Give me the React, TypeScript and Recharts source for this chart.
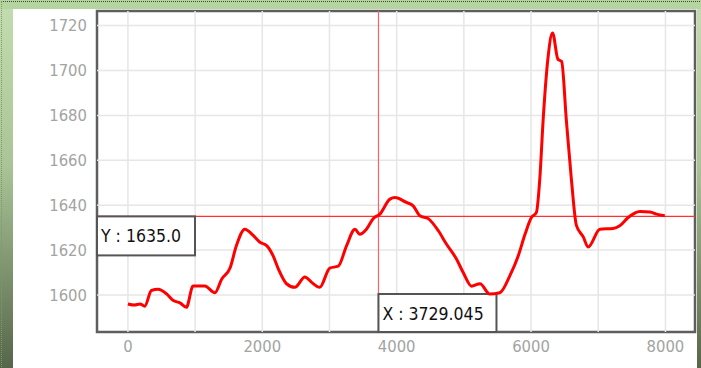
import { LineChart, Line, XAxis, YAxis, ReferenceLine, ReferenceArea } from "recharts";

// trace (x = sample position, y = value)
const xValues = [
  0, 100, 180, 250, 350, 450, 575, 675, 775, 870,
  970, 1145, 1295, 1395, 1520, 1615, 1740, 1865, 1965, 2065,
  2160, 2240, 2360, 2485, 2635, 2735, 2855, 3005, 3130, 3255,
  3380, 3450, 3550, 3650, 3750, 3900, 3975, 4145, 4245, 4345,
  4470, 4620, 4740, 4890, 4990, 5115, 5240, 5385, 5535, 5685,
  5810, 5910, 6005, 6080, 6130, 6180, 6250, 6320, 6400, 6455,
  6525, 6600, 6675, 6775, 6850, 7025, 7220, 7320, 7445, 7620,
  7770, 7865, 7990,
];
const yValues = [
  1596, 1595.5, 1596, 1595, 1602, 1602.5, 1600.5, 1597.5, 1596.5, 1594.5,
  1604, 1604, 1601, 1607, 1612, 1622, 1629.3, 1626.5, 1623.5, 1622,
  1617.5, 1611.5, 1605, 1603.4, 1608, 1605.6, 1603.4, 1612, 1612.8, 1622,
  1629.3, 1627, 1629.3, 1634, 1636, 1642.7, 1643.4, 1641.2, 1639.7, 1635.3,
  1634, 1628.6, 1622.7, 1616, 1610, 1603.9, 1605, 1600.4, 1601, 1608.6,
  1617.5, 1627, 1634.5, 1636.8, 1651.6, 1678, 1705, 1716.7, 1705, 1704,
  1678, 1651.6, 1631, 1626, 1621.4, 1629.3, 1629.6, 1630.8, 1634.5, 1637.2,
  1637, 1636, 1635.3,
];

const xTicks = [0, 2000, 4000, 6000, 8000];
const yTicks = [1600, 1620, 1640, 1660, 1680, 1700, 1720];
const xGrid = [0, 1000, 2000, 3000, 4000, 5000, 6000, 7000, 8000];

const cursorX = 3729.045;
const cursorY = 1635.0;

const X_DOMAIN: [number, number] = [-460, 8440];
const Y_DOMAIN: [number, number] = [1583.5, 1726.5];

const data = xValues.map((x, i) => ({ x, y: yValues[i] }));

const FONT = '"DejaVu Sans Condensed", "DejaVu Sans", sans-serif';
const TICK = { fill: "#a3a3a3", fontSize: 16.5, fontFamily: FONT };

const YLabel = (props: any) => {
  const { x, y } = props.viewBox;
  return (
    <g>
      <rect x={x} y={y} width={98} height={39} fill="#fff" stroke="#555" strokeWidth={2} />
      <text x={x + 4} y={y + 20} dominantBaseline="central" fontFamily={FONT} fontSize={17.5} fill="#111">
        Y : {cursorY.toFixed(1)}
      </text>
    </g>
  );
};

const XLabel = (props: any) => {
  const { x, y, height } = props.viewBox;
  const top = y + height - 38;
  return (
    <g>
      <rect x={x} y={top} width={118} height={38} fill="#fff" stroke="#555" strokeWidth={2} />
      <text x={x + 4} y={top + 20} dominantBaseline="central" fontFamily={FONT} fontSize={17.5} fill="#111">
        X : {cursorX.toFixed(3)}
      </text>
    </g>
  );
};

export default function App() {
  return (
    <div style={{ position: "fixed", left: 0, top: 0, width: 701, height: 368, overflow: "hidden",
      background: "linear-gradient(to bottom, #c4ddb0 0%, #a9c496 45%, #56664a 100%)" }}>
      {/* top band */}
      <div style={{ position: "absolute", left: 0, top: 0, width: 701, height: 9, background: "#b6d49f" }} />
      <div style={{ position: "absolute", left: 1, top: 1, width: 700, height: 367,
        borderTop: "1px dotted #3c4a34", borderLeft: "1px dotted #7d9a6c" }} />
      {/* white panel */}
      <div style={{ position: "absolute", left: 13, top: 9, width: 684, height: 359, background: "#fff" }} />
      <div style={{ position: "absolute", left: 0, top: 0 }}>
        <LineChart width={701} height={368} data={data}
          margin={{ top: 11, right: 6, bottom: 0, left: 0 }}>
          <XAxis dataKey="x" type="number" domain={X_DOMAIN} ticks={xTicks} allowDataOverflow
            height={36} tick={TICK} tickLine={false} tickSize={0} tickMargin={8} axisLine={false} />
          <YAxis type="number" domain={Y_DOMAIN} ticks={yTicks} allowDataOverflow
            width={97} tick={TICK} tickLine={false} tickSize={0} tickMargin={10} axisLine={false} />
          {xGrid.map((g) => (
            <ReferenceLine key={"gx" + g} x={g} stroke="#e6e6e6" strokeWidth={1.5} />
          ))}
          {yTicks.map((g) => (
            <ReferenceLine key={"gy" + g} y={g} stroke="#e6e6e6" strokeWidth={1.5} />
          ))}
          <ReferenceLine y={cursorY} stroke="#ff3030" strokeWidth={1.2} label={<YLabel />} />
          <ReferenceLine x={cursorX} stroke="#ff6060" strokeWidth={1.2} label={<XLabel />} />
          <Line type="monotone" dataKey="y" stroke="#ff0000" strokeWidth={3} dot={false}
            strokeLinejoin="round" isAnimationActive={false} />
          <ReferenceArea x1={X_DOMAIN[0]} x2={X_DOMAIN[1]} y1={Y_DOMAIN[0]} y2={Y_DOMAIN[1]}
            fill="none" fillOpacity={0} stroke="#5e5e5e" strokeWidth={2.5} />
        </LineChart>
      </div>
    </div>
  );
}
